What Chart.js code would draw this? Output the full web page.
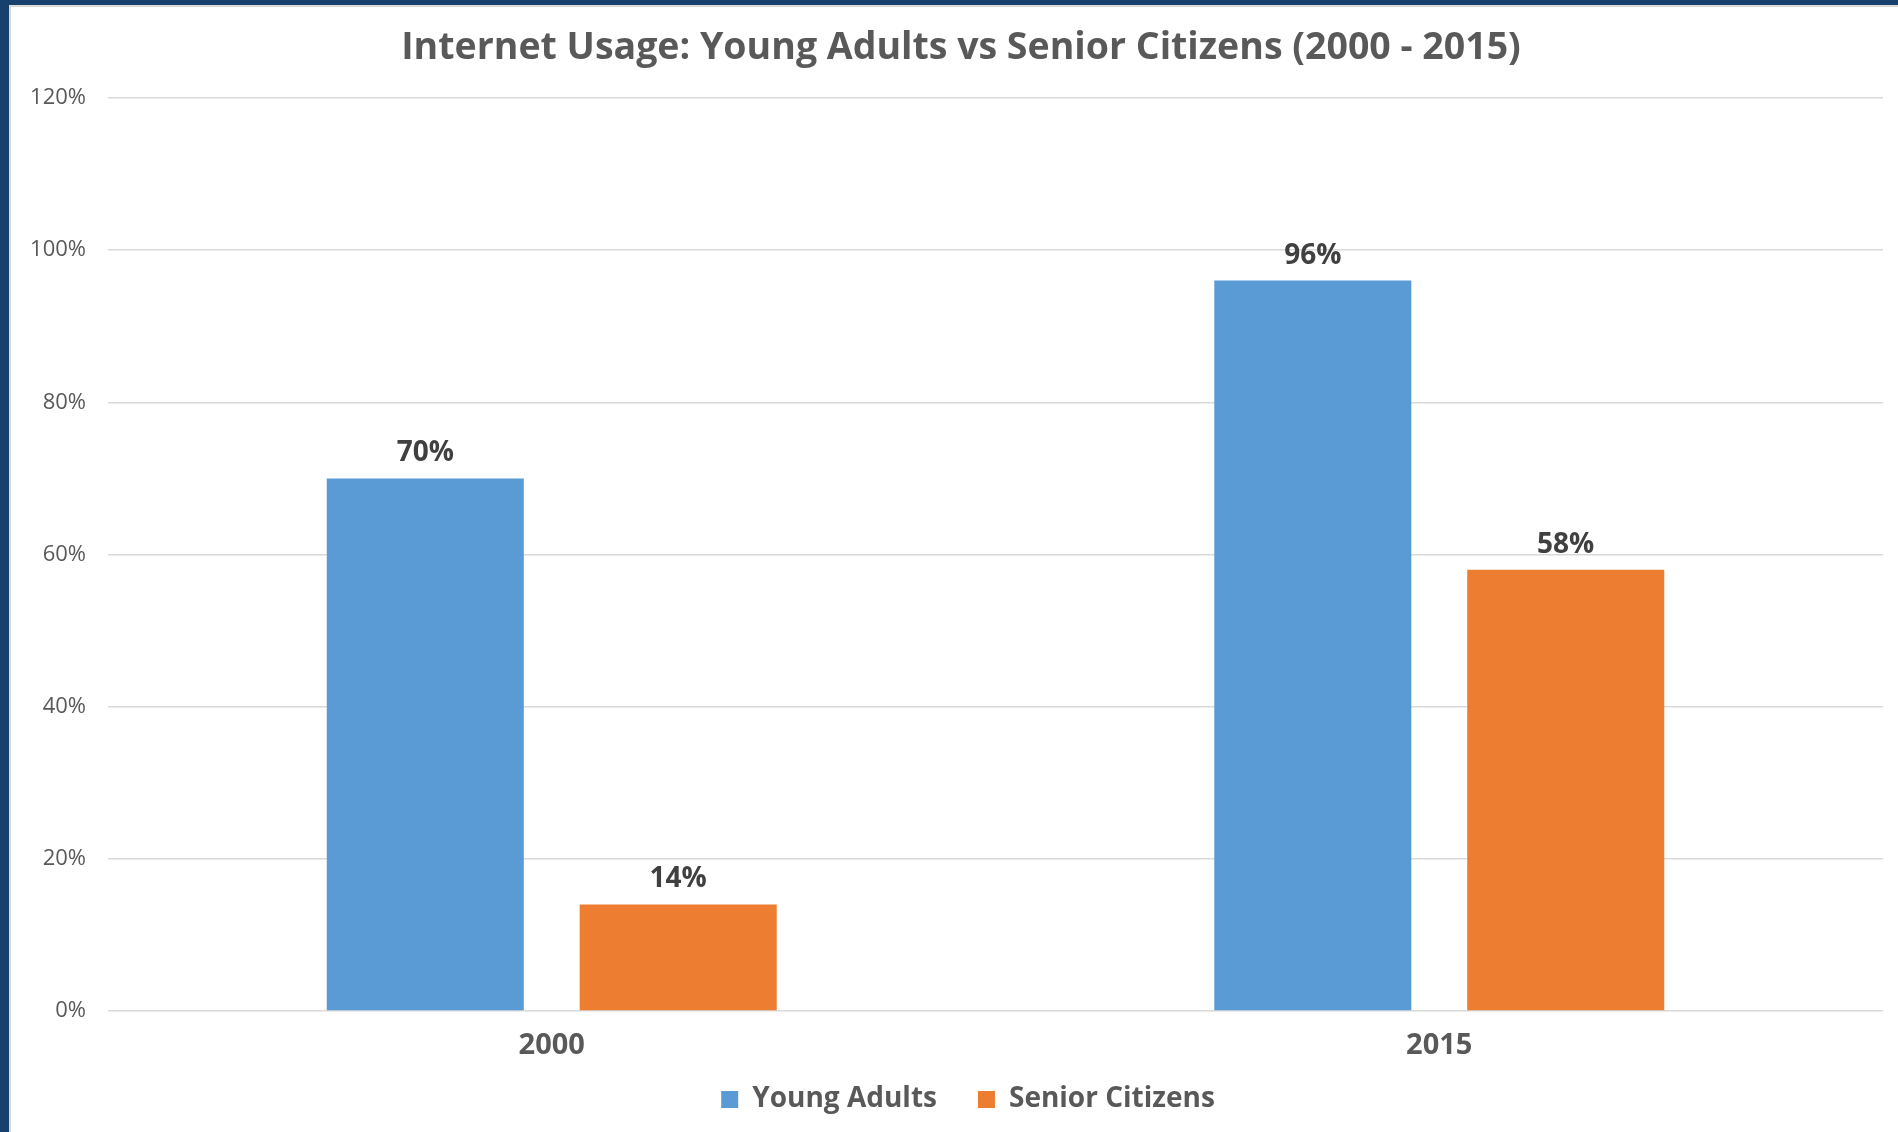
<!DOCTYPE html>
<html>
<head>
<meta charset="utf-8">
<script src="https://cdn.jsdelivr.net/npm/chart.js@4.4.0/dist/chart.umd.min.js"></script>
<style>
  html, body { margin: 0; padding: 0; background: #fff; }
  #frame { position: absolute; left: 0; top: 0; width: 1898px; height: 1132px; background: #17406d; }
  #edge { position: absolute; left: 9px; top: 5px; width: 1889px; height: 1127px; background: #d9d9d9; }
  #wrap { position: absolute; left: 11px; top: 7px; width: 1887px; height: 1125px; background: #fff; }
</style>
</head>
<body>
<div id="frame"><div id="edge"></div><div id="wrap"><canvas id="usage-chart"></canvas></div></div>
<script>
"use strict";

const years = ['2000', '2015'];
const youngAdults = [70, 96];
const seniorCitizens = [14, 58];
const yTicks = [0, 20, 40, 60, 80, 100, 120];

Chart.defaults.font.family = '"Open Sans", sans-serif';
Chart.defaults.color = '#595959';

// draws "70%" etc. above each bar
const valueLabels = {
  id: 'valueLabels',
  afterDatasetsDraw(chart) {
    const ctx = chart.ctx;
    ctx.save();
    ctx.font = 'bold 28px "Open Sans"';
    ctx.fillStyle = '#404040';
    ctx.textAlign = 'center';
    ctx.textBaseline = 'alphabetic';
    chart.data.datasets.forEach((ds, i) => {
      chart.getDatasetMeta(i).data.forEach((bar, j) => {
        ctx.fillText(ds.data[j] + '%', bar.x, bar.y - 17);
      });
    });
    ctx.restore();
  }
};

// title and legend sit a little right of the canvas centre in the original
const nudge = {
  id: 'nudge',
  afterLayout(chart) {
    chart.legend.left += 21;
    chart.legend.right += 21;
    chart.titleBlock.left += 14;
    chart.titleBlock.right += 14;
  }
};

const config = {
  type: 'bar',
  data: {
    labels: years,
    datasets: [
      {
        label: 'Young Adults',
        data: youngAdults,
        backgroundColor: '#5b9bd5',
        barPercentage: 0.779,
        categoryPercentage: 0.57
      },
      {
        label: 'Senior Citizens',
        data: seniorCitizens,
        backgroundColor: '#ed7d31',
        barPercentage: 0.779,
        categoryPercentage: 0.57
      }
    ]
  },
  options: {
    responsive: true,
    maintainAspectRatio: false,
    animation: false,
    layout: { padding: { left: 0, right: 15, top: 0, bottom: 8.5 } },
    plugins: {
      title: {
        display: true,
        text: 'Internet Usage: Young Adults vs Senior Citizens (2000 - 2015)',
        color: '#595959',
        font: { size: 37.5, weight: 'bold' },
        padding: { top: 19, bottom: 27 }
      },
      legend: {
        position: 'bottom',
        labels: {
          boxWidth: 17,
          boxHeight: 17,
          padding: 41,
          color: '#595959',
          font: { size: 28, weight: 'bold' }
        }
      },
      tooltip: { enabled: false }
    },
    scales: {
      x: {
        grid: { display: false },
        border: { display: false },
        afterFit(scale) {
          scale.height = 33.5;
        },
        ticks: {
          // mirror keeps the labels unclipped so the axis box can stay short
          mirror: true,
          padding: -52,
          color: '#595959',
          font: { size: 29, weight: 'bold' }
        }
      },
      y: {
        min: 0,
        max: 120,
        afterBuildTicks(scale) {
          scale.ticks = yTicks.map(v => ({ value: v }));
        },
        afterFit(scale) {
          scale.width = 97;
        },
        grid: { color: '#d9d9d9', lineWidth: 1.5, drawTicks: false },
        border: { display: false },
        ticks: {
          padding: 22,
          color: '#595959',
          font: { size: 22 },
          callback: v => v + '%'
        }
      }
    }
  },
  plugins: [valueLabels, nudge]
};

new Chart(document.getElementById('usage-chart'), config);
</script>
</body>
</html>
